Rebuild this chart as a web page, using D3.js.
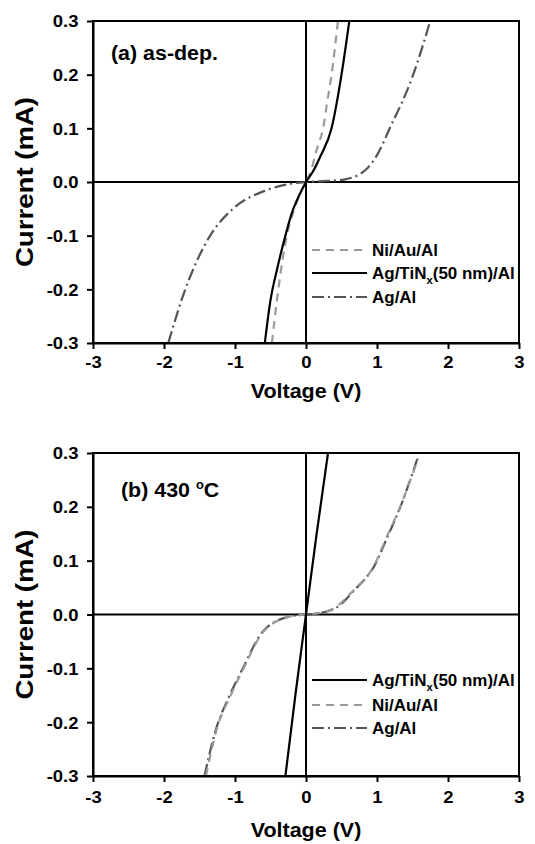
<!DOCTYPE html>
<html><head><meta charset="utf-8">
<script src="https://cdn.jsdelivr.net/npm/d3@7"></script>
<style>
html,body{margin:0;padding:0;background:#fff;}
svg{display:block;}
text{font-family:"Liberation Sans",Arial,sans-serif;font-weight:bold;fill:#000;}
</style></head>
<body>
<svg id="chart" width="535" height="844"></svg>
<script>
// ---------- data ----------
const xTicks = [-3, -2, -1, 0, 1, 2, 3];
const yTicks = [-0.3, -0.2, -0.1, 0.0, 0.1, 0.2, 0.3];
const xLabel = "Voltage (V)";
const yLabel = "Current (mA)";
const seriesNames = ["Ni/Au/Al", "Ag/TiN", "Ag/Al"];

// panel (a) as-dep.
const aNiAuAl_V = [-0.48, -0.39, -0.27, -0.15, -0.06, 0.0, 0.08, 0.15, 0.24, 0.30, 0.36, 0.45];
const aNiAuAl_I = [-0.30, -0.20, -0.10, -0.045, -0.015, 0.0, 0.025, 0.06, 0.10, 0.15, 0.20, 0.30];
const aAgTiN_V = [-0.58, -0.50, -0.41, -0.30, -0.20, -0.10, 0.0, 0.10, 0.20, 0.36, 0.50, 0.61];
const aAgTiN_I = [-0.30, -0.22, -0.164, -0.105, -0.058, -0.026, 0.0, 0.02, 0.047, 0.10, 0.20, 0.30];
const aAgAl_V = [-1.94, -1.70, -1.35, -1.03, -0.55, -0.25, 0.0, 0.30, 0.55, 0.86, 1.00, 1.18, 1.51, 1.75];
const aAgAl_I = [-0.30, -0.20, -0.10, -0.05, -0.015, -0.004, 0.0, 0.002, 0.005, 0.025, 0.05, 0.10, 0.20, 0.30];

// panel (b) 430 °C
const bAgTiN_V = [-0.29, -0.15, 0.0, 0.15, 0.31];
const bAgTiN_I = [-0.30, -0.15, 0.0, 0.15, 0.30];
const bNiAuAl_V = [-1.41, -1.25, -1.06, -0.88, -0.60, -0.23, 0.0, 0.15, 0.40, 0.67, 0.95, 1.14, 1.32, 1.58];
const bNiAuAl_I = [-0.30, -0.21, -0.15, -0.10, -0.032, -0.004, 0.0, 0.002, 0.012, 0.045, 0.089, 0.145, 0.198, 0.29];
const bAgAl_V = [-1.43, -1.27, -1.08, -0.89, -0.61, -0.24, 0.0, 0.16, 0.42, 0.68, 0.97, 1.15, 1.33, 1.57];
const bAgAl_I = [-0.30, -0.214, -0.152, -0.10, -0.032, -0.004, 0.0, 0.002, 0.012, 0.045, 0.092, 0.145, 0.20, 0.29];

// ---------- styles ----------
const styles = {
  "Ni/Au/Al": {color: "#9a9a9a", dash: "8,6"},
  "Ag/TiN": {color: "#000000", dash: null},
  "Ag/Al": {color: "#555555", dash: "12,4,2,4"}
};

const svg = d3.select("#chart");
const zip = (V, I) => V.map((v, i) => ({v: v, i: I[i]}));

function stretchText(sel, sx) {
  sel.each(function () {
    const t = d3.select(this);
    const old = t.attr("transform") || "";
    t.attr("transform", old + " scale(" + sx + ",1)");
  });
}

function panel(cfg) {
  const x = d3.scaleLinear().domain([-3, 3]).range([93, 519]);
  const y = d3.scaleLinear().domain([-0.3, 0.3]).range([cfg.bottom, cfg.top]);
  const g = svg.append("g");
  const clipId = "clip" + cfg.id;
  g.append("clipPath").attr("id", clipId).append("rect")
    .attr("x", 93).attr("y", cfg.top).attr("width", 426).attr("height", cfg.bottom - cfg.top);

  // zero lines
  g.append("line").attr("x1", x(-3)).attr("x2", x(3)).attr("y1", y(0)).attr("y2", y(0))
    .attr("stroke", "#000").attr("stroke-width", 2);
  g.append("line").attr("x1", x(0)).attr("x2", x(0)).attr("y1", y(-0.3)).attr("y2", y(0.3))
    .attr("stroke", "#000").attr("stroke-width", 2);

  // curves
  const line = d3.line().x(d => x(d.v)).y(d => y(d.i)).curve(d3.curveMonotoneX);
  const cg = g.append("g").attr("clip-path", "url(#" + clipId + ")");
  cfg.series.forEach(s => {
    const st = styles[s.name];
    cg.append("path").datum(zip(s.V, s.I)).attr("d", line)
      .attr("fill", "none").attr("stroke", st.color).attr("stroke-width", 2.2)
      .attr("stroke-dasharray", st.dash);
  });

  // frame
  g.append("rect").attr("x", 93).attr("y", cfg.top).attr("width", 426).attr("height", cfg.bottom - cfg.top)
    .attr("fill", "none").attr("stroke", "#000").attr("stroke-width", 2);

  // axes
  const ax = g.append("g").attr("transform", "translate(0," + cfg.bottom + ")")
    .call(d3.axisBottom(x).tickValues(xTicks).tickSize(6).tickSizeOuter(0).tickPadding(5)
      .tickFormat(d => String(d)));
  const ay = g.append("g").attr("transform", "translate(93,0)")
    .call(d3.axisLeft(y).tickValues(yTicks).tickSize(6).tickSizeOuter(0).tickPadding(6)
      .tickFormat(d => d.toFixed(1)));
  [ax, ay].forEach(a => {
    a.select(".domain").attr("stroke-width", 2);
    a.selectAll(".tick line").attr("stroke-width", 2);
    a.selectAll(".tick text").style("font-size", "16.5px")
      .style("font-family", '"Liberation Sans",Arial,sans-serif').style("font-weight", "bold").attr("fill", "#000");
  });
  ax.selectAll(".tick text").attr("y", cfg.tickDy).attr("dy", null);
  stretchText(ax.selectAll(".tick text"), 1.12);
  ay.selectAll(".tick text").attr("x", -13).attr("dy", "0.36em");
  stretchText(ay.selectAll(".tick text"), 1.12);

  // axis titles
  g.append("text").attr("transform", "translate(306," + (cfg.bottom + cfg.titleDy) + ") scale(1.05,1)")
    .attr("text-anchor", "middle").style("font-size", "20.5px").text(xLabel);
  g.append("text").attr("transform", "translate(33," + y(0) + ") rotate(-90) scale(1.2,1)")
    .attr("text-anchor", "middle").style("font-size", "23px").text(yLabel);

  // annotation
  const ann = g.append("text").attr("transform", "translate(" + cfg.annX + "," + cfg.annY + ") scale(1.07,1)")
    .style("font-size", "20px");
  cfg.annotation(ann);

  // legend
  cfg.legend.forEach((name, k) => {
    const st = styles[name];
    const ly = cfg.legendY[k];
    g.append("line").attr("x1", 312).attr("x2", 367).attr("y1", ly).attr("y2", ly)
      .attr("stroke", st.color).attr("stroke-width", 2.2).attr("stroke-dasharray", st.dash);
    const t = g.append("text").attr("transform", "translate(372," + (ly + 6) + ") scale(1.03,1)")
      .style("font-size", "16.5px");
    if (name === "Ag/TiN") {
      t.append("tspan").text("Ag/TiN");
      t.append("tspan").attr("dy", 5).style("font-size", "11px").text("x");
      t.append("tspan").attr("dy", -5).text("(50 nm)/Al");
    } else {
      t.text(name);
    }
  });
}

panel({
  id: "a", top: 21, bottom: 343, tickDy: 25, titleDy: 55,
  annX: 111, annY: 60,
  annotation: t => t.text("(a) as-dep."),
  series: [
    {name: "Ag/Al", V: aAgAl_V, I: aAgAl_I},
    {name: "Ni/Au/Al", V: aNiAuAl_V, I: aNiAuAl_I},
    {name: "Ag/TiN", V: aAgTiN_V, I: aAgTiN_I}
  ],
  legend: ["Ni/Au/Al", "Ag/TiN", "Ag/Al"],
  legendY: [250, 273, 297]
});

panel({
  id: "b", top: 453, bottom: 776, tickDy: 27, titleDy: 61,
  annX: 121, annY: 497,
  annotation: t => {
    t.append("tspan").text("(b) 430 ");
    t.append("tspan").attr("dy", -8).style("font-size", "12px").text("o");
    t.append("tspan").attr("dy", 8).text("C");
  },
  series: [
    {name: "Ag/Al", V: bAgAl_V, I: bAgAl_I},
    {name: "Ni/Au/Al", V: bNiAuAl_V, I: bNiAuAl_I},
    {name: "Ag/TiN", V: bAgTiN_V, I: bAgTiN_I}
  ],
  legend: ["Ag/TiN", "Ni/Au/Al", "Ag/Al"],
  legendY: [680, 705, 728]
});
</script>
</body></html>
